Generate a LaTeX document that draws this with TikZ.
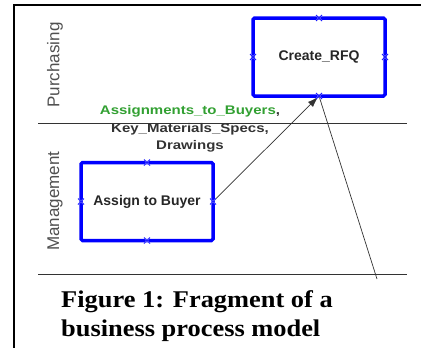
\documentclass[tikz,border=0pt]{standalone}
\usepackage{fontspec}
\setmainfont{Liberation Serif}
\newfontfamily\boxfont{Liberation Sans}
\newfontfamily\flowfont[FakeStretch=1.2]{Liberation Sans}
\newfontfamily\capfont[FakeStretch=1.1]{Liberation Serif}
\usetikzlibrary{arrows.meta}
\definecolor{taskblue}{RGB}{0,0,255}
\definecolor{flowgreen}{RGB}{50,160,50}
\definecolor{lanegray}{RGB}{80,80,80}

\begin{document}
\begin{tikzpicture}[x=1pt,y=-1pt,
  task/.style={draw=taskblue, line width=3.5pt, rounded corners=1.5pt,
    minimum width=132pt, minimum height=78pt, inner sep=0pt, outer sep=0pt,
    text=black!85, font=\boxfont\bfseries\fontsize{14}{16}\selectfont},
  lane/.style={rotate=90, text=lanegray, font=\boxfont\fontsize{17}{19}\selectfont},
  port/.style={draw=white!60!taskblue, line width=1.4pt},
  portline/.style={draw=taskblue, line width=0.5pt},
  flow/.style={draw=black!80, line width=0.7pt}]
\useasboundingbox (0,0) rectangle (421,348);

% Draw border
\draw[line width=1.5pt] (421,5) -- (14,5) -- (14,348);

% Swim lanes
\draw[black!80, line width=0.8pt] (38,123) -- (407,123);
\draw[black!80, line width=0.8pt] (38,274) -- (407,274);
\node[lane] (purchasing) at (55,65) {Purchasing};
\node[lane] (management) at (55,201) {Management};

% Tasks
\node[task] (rfq) at (319,57) {Create\_RFQ};
\node[task] (assign) at (147,201.5) {Assign to Buyer};

% Flows
\coordinate (tail) at (377,279);
\draw[flow, -{Latex[length=11pt,width=7pt]}, shorten >=1pt] (assign.east) -- (rfq.south);
\draw[flow] (rfq.south) -- (tail);
\node[align=center, text=black!80, font=\flowfont\bfseries\fontsize{12.5}{17.5}\selectfont]
  (data) at (190,129) {\textcolor{flowgreen}{Assignments\_to\_Buyers},\\Key\_Materials\_Specs,\\Drawings};

% Connection points
\foreach \n in {rfq,assign} {
  \foreach \a in {north,south,east,west} {
    \draw[port] ([shift={(-3,-3)}]\n.\a) -- ++(6,6) ([shift={(-3,3)}]\n.\a) -- ++(6,-6);
    \draw[portline] ([shift={(-3,-3)}]\n.\a) -- ++(6,6) ([shift={(-3,3)}]\n.\a) -- ++(6,-6);
  }
}

% Caption
\node[anchor=north west, align=left, inner sep=0pt,
  font=\capfont\bfseries\fontsize{24}{29}\selectfont]
  (caption) at (61,290.5) {Figure 1: Fragment of a\\business process model};
\end{tikzpicture}
\end{document}
